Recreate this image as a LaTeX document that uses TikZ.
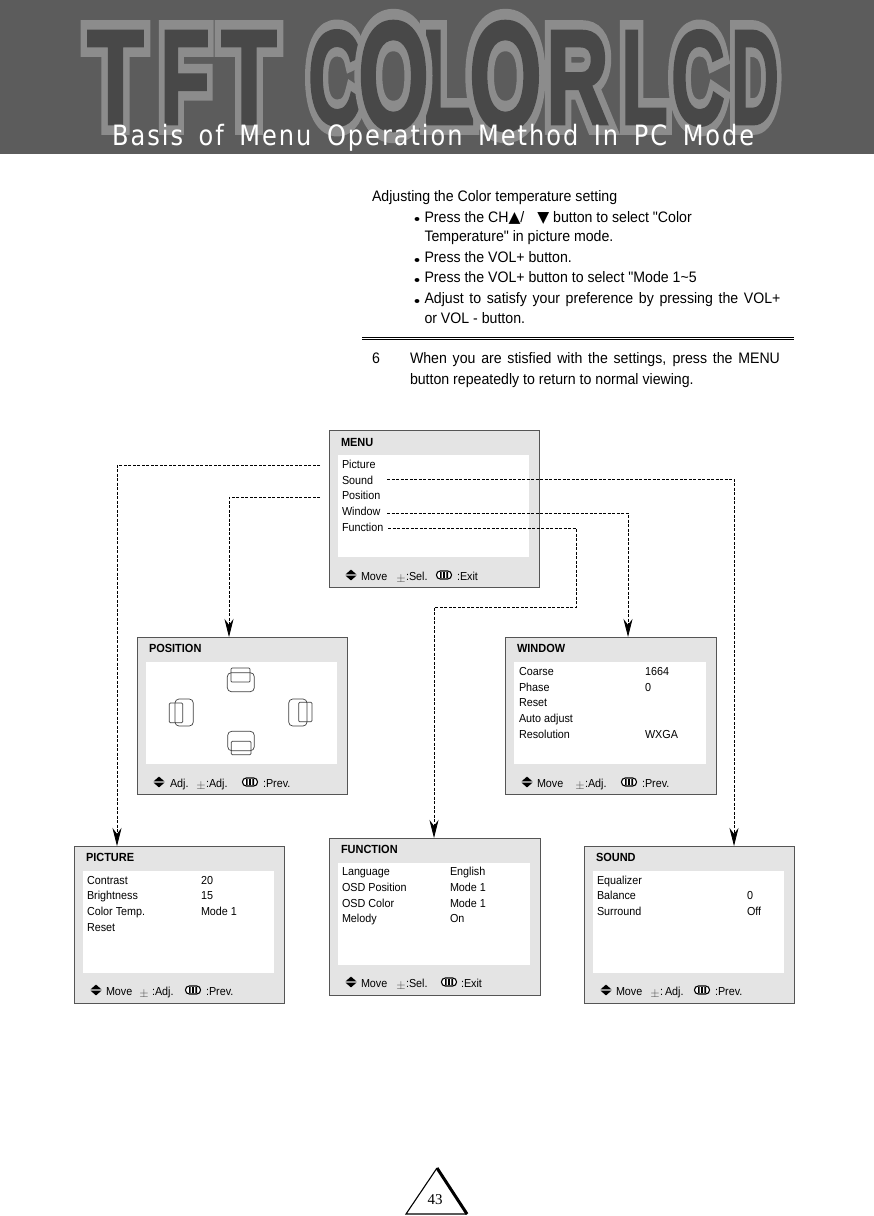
\documentclass[tikz,border=0pt]{standalone}
\usepackage{fontspec}
\usepackage{graphicx}
\usetikzlibrary{arrows.meta}
\setmainfont[FakeStretch=0.93,Ligatures=TeXOff]{Liberation Sans}
\newfontfamily\symf{DejaVu Sans}
\newfontfamily\headf[FakeStretch=0.86,LetterSpace=7]{DejaVu Sans}
\newfontfamily\bigf[FakeBold=2]{Liberation Sans Bold}
\newfontfamily\bigfo[FakeBold=16]{Liberation Sans Bold}
\newfontfamily\numf{Liberation Serif}
\definecolor{band}{HTML}{5C5C5C}
\definecolor{ldark}{HTML}{484848}
\definecolor{lout}{HTML}{8C8C8C}
\definecolor{panel}{HTML}{E4E4E4}
\definecolor{edge}{HTML}{555555}
\newcounter{tx}
\tikzset{
  lab/.style={anchor=base west,inner sep=0,outer sep=0,text=black,font=\fontsize{11.6}{14}\selectfont},
  tlab/.style={lab,font=\fontsize{11.8}{14}\bfseries\selectfont},
  body/.style={anchor=base west,inner sep=0,outer sep=0,text=black,font=\fontsize{15.2}{18}\selectfont},
  link/.style={draw=black,line width=.8pt,dash pattern=on 3pt off 1.5pt,-{Stealth[length=18pt,width=9pt]}},
  pic/.style={draw=black!75,line width=.7pt,fill=none},
}
\newcommand\txt[3]{\stepcounter{tx}\node[lab] (t\thetx) at (#1,#2) {#3};}
\newcommand\ttl[3]{\stepcounter{tx}\node[tlab] (t\thetx) at (#1,#2) {#3};}
\newcommand\bdy[3]{\stepcounter{tx}\node[body] (t\thetx) at (#1,#2) {#3};}
\newcommand\bdyj[4]{\stepcounter{tx}\node[body] (t\thetx) at (#1,#2) {\makebox[#3pt][s]{#4}};}
\newcommand\bult[2]{\fill[black] (#1,#2) ellipse (2.4 and 2);}
% big outlined letter: left, right, top, bottom, letter
\newcommand\bigL[5]{%
  \stepcounter{tx}\node[inner sep=0,text=lout] (t\thetx) at ({(#1+#2)/2},{(#3+#4)/2}) {\resizebox{\dimexpr#2pt-#1pt}{\dimexpr#4pt-#3pt}{\fontsize{100}{100}\bigfo #5}};
  \stepcounter{tx}\node[inner sep=0,text=ldark] (t\thetx) at ({(#1+#2)/2},{(#3+#4)/2}) {\resizebox{\dimexpr#2pt-#1pt}{\dimexpr#4pt-#3pt}{\fontsize{100}{100}\bigf #5}};
}
% footer icons
\newcommand\updn[2]{\fill[black] (#1-5.5,#2-.6) -- (#1,#2-5.4) -- (#1+5.5,#2-.6) -- cycle (#1-5.5,#2+.6) -- (#1,#2+5.4) -- (#1+5.5,#2+.6) -- cycle;}
\newcommand\pmn[2]{\stepcounter{tx}\node[inner sep=0,font=\fontsize{13}{14}\selectfont,text=black!70] (t\thetx) at (#1,#2) {$\pm$};}
\newcommand\pill[2]{\draw[black,fill=white,line width=1.1pt,rounded corners=3.8pt] (#1-7.5,#2-4) rectangle (#1+7.5,#2+4);
  \fill[black] (#1-4,#2-3) rectangle (#1-2.4,#2+3) (#1-.8,#2-3) rectangle (#1+.8,#2+3) (#1+2.4,#2-3) rectangle (#1+4,#2+3);}
\newcommand\panelb[6]{%
  \draw[edge,fill=panel,line width=.9pt] (#2,#3) rectangle (#4,#5);
  \fill[white] (#2+9,#3+25) rectangle (#4-10.5,#3+127);
  \coordinate (#1top) at (#6,#3);
}
\begin{document}
\begin{tikzpicture}[x=1pt,y=-1pt]
\useasboundingbox (0,0) rectangle (874,1216);
\fill[white] (0,0) rectangle (874,1216);
\fill[band] (0,0) rectangle (874,153.5);
% Title letters
\bigL{87}{144}{31}{124}{T}
\bigL{160}{210}{31}{124}{F}
\bigL{221}{277}{31}{124}{T}
\bigL{308}{363}{31}{125}{C}
\bigL{421}{475}{31}{124}{L}
\bigL{358}{429}{22}{130}{O}
\bigL{546}{609}{31}{124}{R}
\bigL{469}{542}{22}{130}{O}
\bigL{621}{668}{31}{124}{L}
\bigL{671}{725}{31}{125}{C}
\bigL{731}{779}{31}{124}{D}
\node[anchor=base west,inner sep=0,text=white,font=\headf\fontsize{28}{30}\selectfont] (headline) at (112,145) {\makebox[642pt][s]{Basis of Menu Operation Method In PC Mode}};
% Body text
\bdy{372}{201}{Adjusting the Color temperature setting}
\bult{417}{219}\bdy{424.5}{222}{Press the CH{\symf\fontsize{15.5}{14}\selectfont▲}/\hspace{9pt} {\symf\fontsize{15.5}{14}\selectfont▼} button to select "Color}
\bdy{424.5}{241}{Temperature" in picture mode.}
\bult{417}{260}\bdy{424.5}{262}{Press the VOL+ button.}
\bult{417}{280}\bdy{424.5}{282}{Press the VOL+ button to select "Mode 1\textasciitilde5}
\bult{417}{301}\bdyj{424.5}{303}{356}{Adjust to satisfy your preference by pressing the VOL+}
\bdy{424.5}{323}{or VOL - button.}
\draw[black,line width=.9pt] (362,337) coordinate (ruleA) -- (794,337);
\draw[black,line width=.9pt] (362,339.4) coordinate (ruleB) -- (794,339.4);
\bdy{372}{363}{6}
\bdyj{410}{363}{370}{When you are stisfied with the settings, press the MENU}
\bdy{410}{384}{button repeatedly to return to normal viewing.}
% Panels
\panelb{menu}{329}{430}{539}{587}{434}
\panelb{pos}{137}{637}{347}{794}{229}
\panelb{win}{505}{637}{716}{794}{628}
\panelb{pict}{74}{846}{284}{1003}{117}
\panelb{func}{329}{838}{540}{995}{434}
\panelb{snd}{584}{846}{794}{1003}{734}
% MENU
\ttl{341}{446}{MENU}
\txt{342}{468}{Picture}
\txt{342}{484}{Sound}
\txt{342}{499}{Position}
\txt{342}{515}{Window}
\txt{342}{531}{Function}
\updn{351}{575}\txt{361}{580}{Move}\pmn{401}{579}\txt{406}{580}{:Sel.}\pill{444}{575}\txt{457}{580}{:Exit}
% POSITION
\ttl{149}{652}{POSITION}
\foreach \a/\b/\c/\d in {227.3/672.7/254.3/691.7,175/699/193.3/726,288.7/699/307/726,227.7/731.3/254.3/750.7}
  \draw[pic,rounded corners=4pt] (\a,\b) rectangle (\c,\d);
\foreach \a/\b/\c/\d in {231/668/250/682,169.3/703/182.7/722.7,298.7/702.3/312/721.7,231.3/741.3/251/754.7}
  \draw[pic,rounded corners=1pt] (\a,\b) rectangle (\c,\d);
\updn{159}{782}\txt{170}{787}{Adj.}\pmn{201}{786}\txt{206}{787}{:Adj.}\pill{250}{782}\txt{263}{787}{:Prev.}
% WINDOW
\ttl{517}{652}{WINDOW}
\txt{519}{675}{Coarse}\txt{645}{675}{1664}
\txt{519}{691}{Phase}\txt{645}{691}{0}
\txt{519}{706}{Reset}
\txt{519}{722}{Auto adjust}
\txt{519}{738}{Resolution}\txt{645}{738}{WXGA}
\updn{527}{782}\txt{537}{787}{Move}\pmn{580}{786}\txt{585}{787}{:Adj.}\pill{629}{782}\txt{642}{787}{:Prev.}
% PICTURE
\ttl{86}{861}{PICTURE}
\txt{87}{884}{Contrast}\txt{201}{884}{20}
\txt{87}{899}{Brightness}\txt{201}{899}{15}
\txt{87}{915}{Color Temp.}\txt{201}{915}{Mode 1}
\txt{87}{931}{Reset}
\updn{96}{990}\txt{106}{995}{Move}\pmn{144}{994}\txt{152}{995}{:Adj.}\pill{193}{990}\txt{206}{995}{:Prev.}
% FUNCTION
\ttl{341}{853}{FUNCTION}
\txt{342}{875}{Language}\txt{450}{875}{English}
\txt{342}{891}{OSD Position}\txt{450}{891}{Mode 1}
\txt{342}{907}{OSD Color}\txt{450}{907}{Mode 1}
\txt{342}{922}{Melody}\txt{450}{922}{On}
\updn{351}{982}\txt{361}{987}{Move}\pmn{401}{986}\txt{406}{987}{:Sel.}\pill{449}{982}\txt{461}{987}{:Exit}
% SOUND
\ttl{596}{861}{SOUND}
\txt{597}{884}{Equalizer}
\txt{597}{899}{Balance}\txt{747}{899}{0}
\txt{597}{915}{Surround}\txt{747}{915}{Off}
\updn{606}{990}\txt{616}{995}{Move}\pmn{655}{994}\txt{660}{995}{:}\txt{665}{995}{Adj.}\pill{702}{990}\txt{715}{995}{:Prev.}
% Connectors
\coordinate (cPic) at (320,465);
\coordinate (cPos) at (320,497);
\coordinate (cSnd) at (387,479);
\coordinate (cWin) at (387,513);
\coordinate (cFun) at (388,528);
\path[link] (cPic) -| (picttop);
\path[link] (cPos) -| (postop);
\path[link] (cSnd) -| (sndtop);
\path[link] (cWin) -| (wintop);
\path[link] (cFun) -- (576,528) -- (576,607) -- (434,607) -- (functop);
% Page number
\coordinate (triA) at (437,1168);
\coordinate (triB) at (406,1214);
\coordinate (triC) at (467,1214);
\draw[black,line width=1.1pt,line join=miter] (triA) -- (triB) -- (triC);
\draw[black,line width=3pt] (triA) -- (triC);
\node[inner sep=0,font=\numf\fontsize{15}{16}\selectfont] (pageno) at (435,1200) {43};
\end{tikzpicture}
\end{document}
